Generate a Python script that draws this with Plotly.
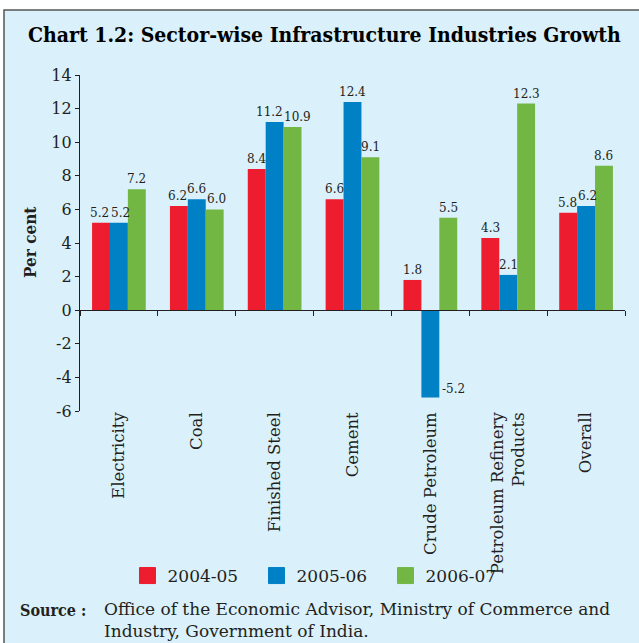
import plotly.graph_objects as go

categories = ["Electricity", "Coal", "Finished Steel", "Cement", "Crude Petroleum",
              "Petroleum Refinery<br>Products", "Overall"]
series_names = ["2004-05", "2005-06", "2006-07"]
v_2004_05 = [5.2, 6.2, 8.4, 6.6, 1.8, 4.3, 5.8]
v_2005_06 = [5.2, 6.6, 11.2, 12.4, -5.2, 2.1, 6.2]
v_2006_07 = [7.2, 6.0, 10.9, 9.1, 5.5, 12.3, 8.6]
colors = ["#ED1C2E", "#0080C5", "#72B744"]
y_ticks = list(range(-6, 15, 2))

W, H = 639, 643
L, R, T, B = 80, 14, 75, 232
pw, ph = W - L - R, H - T - B
def px_x(p): return (p - L) / pw
def px_y(p): return (H - B - p) / ph

BARGAP = 0.31
bar_px = pw / len(categories) * (1 - BARGAP) / 3
unit_px = ph / (y_ticks[-1] - y_ticks[0])
LBL_SIZE = 12
def lbl_w(s):
    return sum(0.32 * LBL_SIZE if ch == "." else 0.636 * LBL_SIZE for ch in s)

TXT = "#231F20"
SERIF = "DejaVu Serif"
BOLD = "DejaVu Serif Condensed"
fig = go.Figure()
all_vals = [v_2004_05, v_2005_06, v_2006_07]
for name, vals, col in zip(series_names, all_vals, colors):
    fig.add_trace(go.Bar(x=categories, y=vals, name=name, marker=dict(color=col, line=dict(width=0)),
                         showlegend=False, hoverinfo="skip"))
    fig.add_trace(go.Scatter(x=[None], y=[None], mode="markers", name=name,
                             marker=dict(symbol="square", size=16, color=col, line=dict(width=1, color=col))))

# value labels, nudged apart horizontally where neighbours would collide
for ci, cat in enumerate(categories):
    vals = [s[ci] for s in all_vals]
    texts = [f"{v:.1f}" for v in vals]
    centers = [(k - 1) * bar_px for k in range(3)]
    shifts = [0.0, 0.0, 0.0]
    for k in range(2):
        a, b = k, k + 1
        if vals[a] >= 0 and vals[b] >= 0 and abs(vals[a] - vals[b]) * unit_px < 14:
            gap = (centers[b] + shifts[b] - lbl_w(texts[b]) / 2) - (centers[a] + shifts[a] + lbl_w(texts[a]) / 2)
            if gap < 1:
                d = (1 - gap) / 2
                shifts[a] -= d
                shifts[b] += d
    for k in range(3):
        v = vals[k]
        if v >= 0:
            fig.add_annotation(x=cat, y=v, text=texts[k], showarrow=False, xanchor="center",
                               yanchor="bottom", xshift=centers[k] + shifts[k], yshift=1,
                               font=dict(family=SERIF, size=LBL_SIZE, color=TXT))
        else:
            fig.add_annotation(x=cat, y=v, text=texts[k], showarrow=False, xanchor="left",
                               yanchor="bottom", xshift=centers[k] + bar_px / 2 + 1,
                               font=dict(family=SERIF, size=LBL_SIZE, color=TXT))

# helper trace for zero-line axis
fig.add_trace(go.Scatter(x=categories, y=v_2006_07, xaxis="x2", mode="markers",
                         marker=dict(opacity=0), showlegend=False, hoverinfo="skip"))

fig.update_layout(
    width=W, height=H, margin=dict(l=L, r=R, t=T, b=B),
    paper_bgcolor="white", plot_bgcolor="rgba(0,0,0,0)",
    barmode="group", bargap=BARGAP, bargroupgap=0,
    xaxis=dict(type="category", showline=False, ticks="", tickangle=-90, showgrid=False,
               ticklabelstandoff=-3,
               tickfont=dict(family=SERIF, size=16.5, color=TXT)),
    xaxis2=dict(type="category", overlaying="x", matches="x", anchor="free",
                position=(0 - y_ticks[0]) / (y_ticks[-1] - y_ticks[0]),
                showline=True, linecolor=TXT, linewidth=1.2, ticks="outside", ticklen=5,
                tickcolor=TXT, tickwidth=1.2, tickson="boundaries", showticklabels=False, showgrid=False),
    yaxis=dict(range=[y_ticks[0], y_ticks[-1]], tickvals=y_ticks, ticktext=[str(t) for t in y_ticks],
               showline=True, linecolor=TXT,
               linewidth=1.2, ticks="outside", ticklen=4, tickcolor=TXT, tickwidth=1.2,
               showgrid=False, zeroline=False,
               tickfont=dict(family=SERIF, size=16, color=TXT)),
    legend=dict(orientation="h", xanchor="center", yanchor="middle", x=px_x(321), y=px_y(576),
                entrywidth=84, entrywidthmode="pixels",
                font=dict(family=SERIF, size=17, color=TXT), bgcolor="rgba(0,0,0,0)"),
    shapes=[dict(type="rect", xref="paper", yref="paper", x0=px_x(4), x1=px_x(646),
                 y0=px_y(650), y1=px_y(10), fillcolor="#DAF0FA",
                 line=dict(color="#555555", width=1.5), layer="below")],
)

fig.add_annotation(xref="paper", yref="paper", x=px_x(324), y=px_y(34),
                   text="<b>Chart 1.2: Sector-wise Infrastructure Industries Growth</b>",
                   showarrow=False, xanchor="center", yanchor="middle",
                   font=dict(family=BOLD, size=21, color="black"))
fig.add_annotation(xref="paper", yref="paper", x=px_x(30), y=0.5, text="<b>Per cent</b>",
                   textangle=-90, showarrow=False, xanchor="center", yanchor="middle",
                   font=dict(family=BOLD, size=17, color=TXT))
fig.add_annotation(xref="paper", yref="paper", x=px_x(18), y=px_y(610), text="<b>Source :</b>",
                   showarrow=False, xanchor="left", yanchor="middle",
                   font=dict(family=BOLD, size=16, color=TXT))
fig.add_annotation(xref="paper", yref="paper", x=px_x(102), y=px_y(620),
                   text="Office of the Economic Advisor, Ministry of Commerce and<br>Industry, Government of India.",
                   showarrow=False, xanchor="left", yanchor="middle", align="left",
                   font=dict(family=SERIF, size=17, color=TXT))

fig.write_html("out.html")
